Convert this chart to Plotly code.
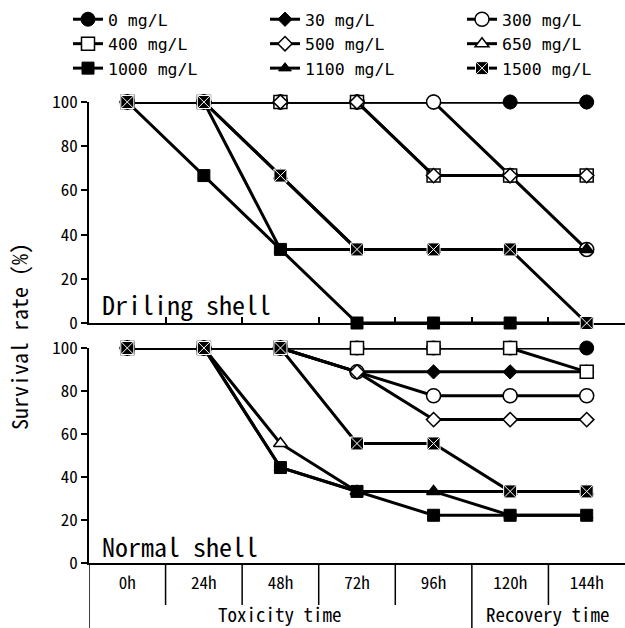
import plotly.graph_objects as go

# ---------------- data ----------------
times = ["0h", "24h", "48h", "72h", "96h", "120h", "144h"]
series_names = ["0 mg/L", "30 mg/L", "300 mg/L", "400 mg/L", "500 mg/L",
                "650 mg/L", "1000 mg/L", "1100 mg/L", "1500 mg/L"]

drill_0 = [100, 100, 100, 100, 100, 100, 100]
drill_30 = [100, 100, 100, 100, 100, 100, 100]
drill_300 = [100, 100, 100, 100, 100, 66.7, 33.3]
drill_400 = [100, 100, 100, 100, 66.7, 66.7, 66.7]
drill_500 = [100, 100, 100, 100, 66.7, 66.7, 66.7]
drill_650 = [100, 100, 66.7, 33.3, 33.3, 33.3, 33.3]
drill_1000 = [100, 66.7, 33.3, 0, 0, 0, 0]
drill_1100 = [100, 100, 33.3, 33.3, 33.3, 33.3, 33.3]
drill_1500 = [100, 100, 66.7, 33.3, 33.3, 33.3, 0]

normal_0 = [100, 100, 100, 100, 100, 100, 100]
normal_30 = [100, 100, 100, 88.9, 88.9, 88.9, 88.9]
normal_300 = [100, 100, 100, 88.9, 77.8, 77.8, 77.8]
normal_400 = [100, 100, 100, 100, 100, 100, 88.9]
normal_500 = [100, 100, 100, 88.9, 66.7, 66.7, 66.7]
normal_650 = [100, 100, 55.6, 33.3, 33.3, 33.3, 33.3]
normal_1000 = [100, 100, 44.4, 33.3, 22.2, 22.2, 22.2]
normal_1100 = [100, 100, 44.4, 33.3, 33.3, 22.2, 22.2]
normal_1500 = [100, 100, 100, 55.6, 55.6, 33.3, 33.3]

drill_values = [drill_0, drill_30, drill_300, drill_400, drill_500,
                drill_650, drill_1000, drill_1100, drill_1500]
normal_values = [normal_0, normal_30, normal_300, normal_400, normal_500,
                 normal_650, normal_1000, normal_1100, normal_1500]

panel_labels = ["Driling shell", "Normal shell"]
phase_labels = ["Toxicity time", "Recovery time"]
y_title = "Survival rate (%)"

# ---------------- styles ----------------
FONT = "Noto Sans Mono CJK JP, DejaVu Sans Mono, monospace"
LEGEND_FONT = "DejaVu Sans Mono, monospace"
marker_styles = [
    dict(symbol="circle", size=14, color="black", line=dict(color="black", width=1)),
    dict(symbol="diamond", size=11, color="black", line=dict(color="black", width=1)),
    dict(symbol="circle", size=14, color="white", line=dict(color="black", width=1.5)),
    dict(symbol="square", size=13, color="white", line=dict(color="black", width=1.5)),
    dict(symbol="diamond", size=11, color="white", line=dict(color="black", width=1.5)),
    dict(symbol="triangle-up", size=12, color="white", line=dict(color="black", width=1.5)),
    dict(symbol="square", size=12, color="black", line=dict(color="black", width=1)),
    dict(symbol="triangle-up", size=11, color="black", line=dict(color="black", width=1)),
    dict(symbol="square-x", size=13, color="black", line=dict(color="white", width=1)),
]

fig = go.Figure()
for panel, (vals_list, xa, ya) in enumerate([(drill_values, "x", "y"),
                                             (normal_values, "x2", "y2")]):
    for i, (name, vals) in enumerate(zip(series_names, vals_list)):
        fig.add_trace(go.Scatter(
            x=times, y=vals, name=name, mode="lines+markers",
            xaxis=xa, yaxis=ya,
            line=dict(color="black", width=3),
            marker=marker_styles[i],
            cliponaxis=False,
            showlegend=(panel == 0),
            legendgroup=name,
        ))

W, H = 625, 628
L = 89
T = 90
PW = W - L
PH = H - T

def py(px):
    return (H - px) / PH

def px_x(px):
    return (px - L) / PW

top_dom = [py(323), py(102)]
bot_dom = [py(563), py(348)]

common_x = dict(type="category", range=[-0.5, 6.5], showgrid=False,
                showline=True, linecolor="black", linewidth=1.5,
                tickson="boundaries", layer="below traces",
                tickfont=dict(family=FONT, size=17, color="black"))
common_y = dict(range=[0, 100], dtick=20, showgrid=False, zeroline=False,
                showline=True, linecolor="black", linewidth=1.5,
                ticks="outside", ticklen=6, tickcolor="black", tickwidth=1.5,
                tickfont=dict(family=FONT, size=17, color="black"),
                layer="below traces")

fig.update_layout(
    width=W, height=H,
    margin=dict(l=L, r=0, t=T, b=0, autoexpand=False),
    paper_bgcolor="white", plot_bgcolor="white",
    font=dict(family=FONT, color="black"),
    xaxis=dict(**common_x, anchor="y", domain=[0, 1], ticks="inside",
               ticklen=6, tickcolor="black", tickwidth=1.5,
               showticklabels=False),
    xaxis2=dict(**common_x, anchor="y2", domain=[0, 1], ticks="",
                showticklabels=True, ticklabelstandoff=4),
    yaxis=dict(**common_y, anchor="x", domain=top_dom),
    yaxis2=dict(**common_y, anchor="x2", domain=bot_dom),
    legend=dict(orientation="h", x=px_x(68), xanchor="left",
                y=py(2), yanchor="top",
                entrywidth=152, entrywidthmode="pixels",
                font=dict(family=LEGEND_FONT, size=16.5, color="black"),
                bgcolor="rgba(0,0,0,0)", traceorder="normal"),
)

# category separators below the bottom axis
shapes = []
for k in range(1, len(times)):
    xb = k - 0.5
    y_end = py(628) if times[k] == "120h" else py(605)
    shapes.append(dict(type="line", xref="x2", yref="paper",
                       x0=xb, x1=xb, y0=bot_dom[0], y1=y_end,
                       line=dict(color="black", width=1.5)))
shapes.append(dict(type="line", xref="x2", yref="paper",
                   x0=-0.5, x1=-0.5, y0=bot_dom[0], y1=py(628),
                   line=dict(color="black", width=1.5)))
fig.update_layout(shapes=shapes)

annotations = [
    dict(text=panel_labels[0], xref="paper", yref="paper", x=px_x(100), y=py(303),
         xanchor="left", yanchor="middle", showarrow=False,
         font=dict(family=FONT, size=26, color="black")),
    dict(text=panel_labels[1], xref="paper", yref="paper", x=px_x(100), y=py(545),
         xanchor="left", yanchor="middle", showarrow=False,
         font=dict(family=FONT, size=26, color="black")),
    dict(text=phase_labels[0], xref="x2", yref="paper", x=2, y=py(613),
         xanchor="center", yanchor="middle", showarrow=False,
         font=dict(family=FONT, size=19, color="black")),
    dict(text=phase_labels[1], xref="x2", yref="paper", x=5.5, y=py(613),
         xanchor="center", yanchor="middle", showarrow=False,
         font=dict(family=FONT, size=19, color="black")),
    dict(text=y_title, xref="paper", yref="paper", x=px_x(18), y=py(337),
         xanchor="center", yanchor="middle", showarrow=False, textangle=-90,
         font=dict(family=FONT, size=22, color="black")),
]
fig.update_layout(annotations=annotations)

fig.write_html("out.html")
